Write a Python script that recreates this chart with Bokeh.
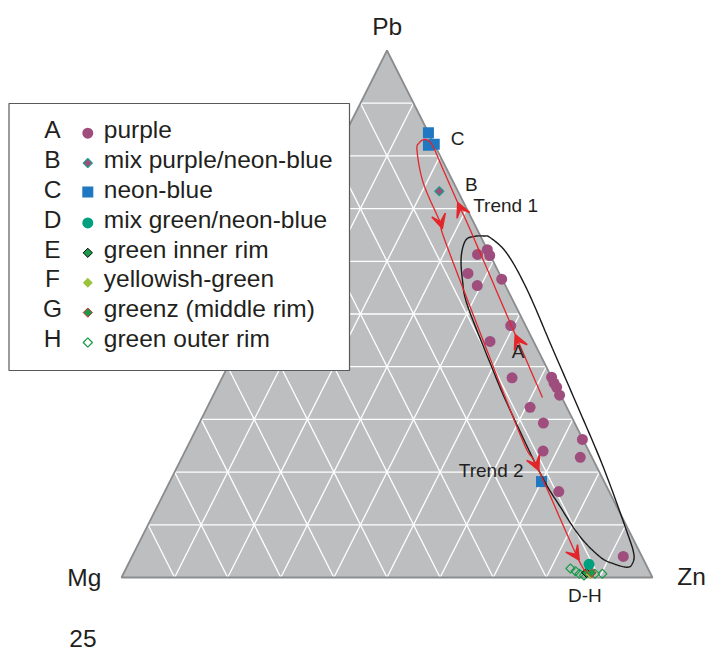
import numpy as np
from bokeh.plotting import figure
from bokeh.models import Range1d, Arrow, VeeHead
from bokeh.core.properties import value
from bokeh.embed import file_html
from bokeh.resources import INLINE

# ---------------- data (ternary compositions, percent; Mg = 100 - Pb - Zn) ----------------
purple_pb = [61.3, 62.2, 61.1, 57.7, 55.4, 56.6, 47.8, 44.8, 37.9, 38.0, 36.9, 36.1, 34.6, 32.3, 29.3, 26.2, 24.0, 22.8, 16.3, 4.0]
purple_zn = [36.4, 37.8, 38.8, 36.4, 39.3, 43.3, 49.4, 47.0, 54.6, 62.0, 63.0, 63.9, 65.2, 60.8, 64.8, 73.7, 67.4, 75.0, 74.2, 92.5]
mixpb_pb = [73.3]
mixpb_zn = [23.2]
neon_pb = [84.4, 82.0, 82.2, 18.2]
neon_zn = [15.6, 16.8, 17.8, 70.0]
mixgn_pb = [2.5]
mixgn_zn = [86.8]
inner_pb = [0.9]
inner_zn = [87.1]
yellow_pb = [0.6]
yellow_zn = [88.0]
middle_pb = [0.9]
middle_zn = [88.1]
outer_pb = [1.7, 1.2, 0.7, 0.4, 0.7, 0.7]
outer_zn = [83.7, 84.9, 85.9, 86.9, 88.8, 90.2]

# trend path (Trend 1 upward, loop, Trend 2 downward)
trend_pb = [34.16, 45.54, 65.84, 70.59, 77.23, 81.21, 82.73, 83.11, 82.54, 81.02, 74.76, 66.79, 62.62, 27.89, 20.87, 3.80, 1.14]
trend_zn = [62.20, 51.62, 32.81, 28.27, 22.03, 18.34, 16.63, 15.50, 14.85, 15.14, 19.49, 26.86, 30.08, 60.81, 67.90, 83.98, 87.00]
arrow_at = [1, 3, 11, 14, 15]

# field outline of group A
field_pb = [60.78, 63.95, 64.71, 64.80, 64.46, 61.42, 54.46, 43.45, 32.07, 20.87, 8.92, 4.50, 2.60, 1.95, 2.60, 3.85, 7.65, 13.34, 19.68, 32.96, 40.55, 51.61, 56.36]
field_zn = [33.58, 32.81, 34.00, 35.77, 37.26, 41.93, 49.23, 59.44, 70.03, 80.33, 90.64, 94.23, 94.88, 94.26, 91.41, 88.28, 82.62, 76.00, 69.07, 56.16, 49.21, 39.35, 36.04]

legend_letters = ["A", "B", "C", "D", "E", "F", "G", "H"]
legend_labels = ["purple", "mix purple/neon-blue", "neon-blue", "mix green/neon-blue",
                 "green inner rim", "yellowish-green", "greenz (middle rim)", "green outer rim"]

# ---------------- styles ----------------
PURPLE = "#9e4d7d"
BLUE = "#1f78c1"
TEAL = "#00a07f"
TEAL_EDGE = "#1aa38a"
GREEN = "#1a9a4a"
YGREEN = "#9bc23c"
RED = "#e3262b"
INK = "#231f20"
FONT = value("Liberation Sans")
BIG, SMALL = 24.5, 19.0
BIG_SHIFT, SMALL_SHIFT = 0.38 * BIG, 0.38 * SMALL

W, H = 710, 653
OX, OY = 0, 0
BX0, BX1, BY, TOPY = 121.0, 652.0, 577.0, 50.0
SXS = BX1 - BX0
SYS = BY - TOPY


def sx(px):
    return (px - BX0) / SXS


def sy(py):
    return (BY - py) / SYS


def tern(pb, zn):
    pb = np.asarray(pb, float) / 100.0
    zn = np.asarray(zn, float) / 100.0
    return zn + pb / 2.0, pb


def catmull(xs, ys, closed=False, n=14):
    P = np.column_stack([xs, ys])
    if closed:
        P = np.vstack([P[-1], P, P[0], P[1]])
    else:
        P = np.vstack([P[0], P, P[-1]])
    out = []
    for i in range(1, len(P) - 2):
        p0, p1, p2, p3 = P[i - 1], P[i], P[i + 1], P[i + 2]
        for t in np.linspace(0, 1, n, endpoint=False):
            t2, t3 = t * t, t * t * t
            pt = 0.5 * ((2 * p1) + (-p0 + p2) * t + (2 * p0 - 5 * p1 + 4 * p2 - p3) * t2 + (-p0 + 3 * p1 - 3 * p2 + p3) * t3)
            out.append(pt)
    out.append(P[-2])
    out = np.array(out)
    return out[:, 0], out[:, 1]


p = figure(width=W, height=H, output_backend="svg", toolbar_location=None,
           x_axis_type=None, y_axis_type=None, min_border=0,
           x_range=Range1d((OX - BX0) / SXS, (OX + W - BX0) / SXS),
           y_range=Range1d((BY - (OY + H)) / SYS, (BY - OY) / SYS))
p.outline_line_color = None
p.grid.visible = False
p.background_fill_color = "white"
p.border_fill_color = "white"

# triangle
tx, ty = tern([0, 0, 100], [0, 100, 0])
p.patch(list(tx), list(ty), fill_color="#bcbec0", line_color=None)
gx, gy = [], []
for i in range(1, 10):
    f = i * 10.0
    a = tern([f, f], [0, 100 - f]); gx.append(list(a[0])); gy.append(list(a[1]))
    a = tern([0, 100 - f], [f, f]); gx.append(list(a[0])); gy.append(list(a[1]))
    a = tern([0, 100 - f], [100 - f, 0]); gx.append(list(a[0])); gy.append(list(a[1]))
p.multi_line(gx, gy, line_color="white", line_width=1.3)
p.patch(list(tx), list(ty), fill_color=None, line_color="#8a8c8e", line_width=1.8)

# points
x, y = tern(purple_pb, purple_zn)
p.scatter(x, y, marker="circle", size=11, fill_color=PURPLE, line_color=None)
x, y = tern(mixpb_pb, mixpb_zn)
p.scatter(x, y, marker="square", angle=np.pi / 4, size=6.5, fill_color=PURPLE, line_color=TEAL_EDGE, line_width=1.2)
x, y = tern(neon_pb, neon_zn)
p.scatter(x, y, marker="square", size=11, fill_color=BLUE, line_color=None)
x, y = tern(outer_pb, outer_zn)
p.scatter(x, y, marker="square", angle=np.pi / 4, size=6.5, fill_color=None, line_color=GREEN, line_width=1.2)
x, y = tern(inner_pb, inner_zn)
p.scatter(x, y, marker="square", angle=np.pi / 4, size=6.5, fill_color=GREEN, line_color="black", line_width=1)
x, y = tern(yellow_pb, yellow_zn)
p.scatter(x, y, marker="square", angle=np.pi / 4, size=6.5, fill_color=YGREEN, line_color=None)
x, y = tern(middle_pb, middle_zn)
p.scatter(x, y, marker="square", angle=np.pi / 4, size=6.5, fill_color=GREEN, line_color=RED, line_width=1)
x, y = tern(mixgn_pb, mixgn_zn)
p.scatter(x, y, marker="circle", size=11, fill_color=TEAL, line_color=None)

# field outline
fx, fy = tern(field_pb, field_zn)
cx, cy = catmull(fx, fy, closed=True)
p.line(cx, cy, line_color="#1a1a1a", line_width=1.4)

# trend path
rx, ry = tern(trend_pb, trend_zn)
cx, cy = catmull(rx, ry, closed=False)
p.line(cx, cy, line_color=RED, line_width=1.3)
for i in arrow_at:
    dx, dy = rx[i + 1] - rx[i], ry[i + 1] - ry[i]
    d = np.hypot(dx, dy)
    dx, dy = dx / d, dy / d
    p.add_layout(Arrow(end=VeeHead(size=14, fill_color=RED, line_color=RED, line_width=1.5),
                       x_start=rx[i] - 0.02 * dx, y_start=ry[i] - 0.02 * dy,
                       x_end=rx[i] + 0.006 * dx, y_end=ry[i] + 0.006 * dy,
                       line_alpha=0, line_width=0))

# annotation labels
p.text(x=[sx(457), sx(470.8), sx(517.5), sx(584.3)],
       y=[sy(b - SMALL_SHIFT) for b in (145, 191.7, 358.3, 602)],
       text=["C", "B", "A", "D-H"], text_font=FONT, text_font_size=value(f"{SMALL}px"),
       text_align="center", text_baseline="alphabetic", text_color=INK)
p.text(x=[sx(472.7), sx(458.3)], y=[sy(b - SMALL_SHIFT) for b in (212.7, 477.3)],
       text=["Trend 1", "Trend 2"],
       text_font=FONT, text_font_size=value(f"{SMALL}px"), text_align="left",
       text_baseline="alphabetic", text_color=INK)

# vertex labels and page number
p.text(x=[sx(386.7), sx(83.8), sx(691), sx(82.5)],
       y=[sy(b - BIG_SHIFT) for b in (35, 586, 585, 647)],
       text=["Pb", "Mg", "Zn", "25"], text_font=FONT, text_font_size=value(f"{BIG}px"),
       text_align="center", text_baseline="alphabetic", text_color=INK)

# legend box
p.quad(left=[sx(8.5)], right=[sx(349)], top=[sy(103)], bottom=[sy(370)],
       fill_color="white", line_color="#58595b", line_width=1.2)
rows = np.arange(len(legend_letters))
base = 138.3 + 29.9 * rows - BIG_SHIFT
mk = 132.7 + 29.9 * rows
p.text(x=[sx(52)] * 8, y=[sy(b) for b in base], text=legend_letters, text_font=FONT,
       text_font_size=value(f"{BIG}px"), text_align="center", text_baseline="alphabetic", text_color=INK)
p.text(x=[sx(103.3)] * 8, y=[sy(b) for b in base], text=legend_labels, text_font=FONT,
       text_font_size=value(f"{BIG}px"), text_align="left", text_baseline="alphabetic", text_color=INK)
lx = sx(87.3)
p.scatter([lx], [sy(mk[0])], marker="circle", size=11, fill_color=PURPLE, line_color=None)
p.scatter([lx], [sy(mk[1])], marker="square", angle=np.pi / 4, size=6.5, fill_color=PURPLE, line_color=TEAL_EDGE, line_width=1.2)
p.scatter([lx], [sy(mk[2] - 1)], marker="square", size=11, fill_color=BLUE, line_color=None)
p.scatter([lx], [sy(mk[3])], marker="circle", size=11, fill_color=TEAL, line_color=None)
p.scatter([lx], [sy(mk[4])], marker="square", angle=np.pi / 4, size=6.5, fill_color=GREEN, line_color="black", line_width=1)
p.scatter([lx], [sy(mk[5])], marker="square", angle=np.pi / 4, size=7, fill_color=YGREEN, line_color=None)
p.scatter([lx], [sy(mk[6])], marker="square", angle=np.pi / 4, size=6.5, fill_color=GREEN, line_color=RED, line_width=1)
p.scatter([lx], [sy(mk[7])], marker="square", angle=np.pi / 4, size=6.5, fill_color="white", line_color=GREEN, line_width=1.3)

open("out.html", "w").write(file_html(p, INLINE))
